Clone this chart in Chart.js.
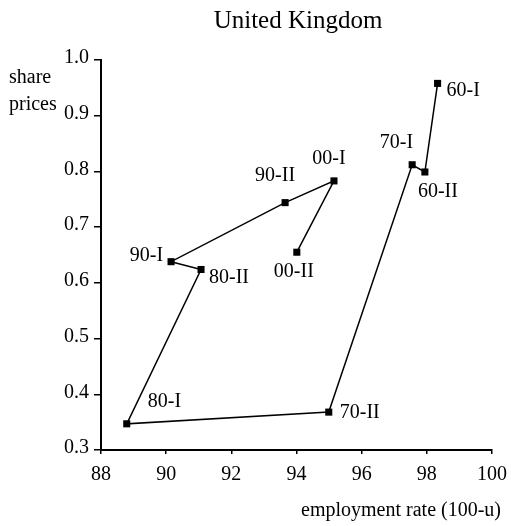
<!DOCTYPE html>
<html>
<head>
<meta charset="utf-8">
<script src="https://cdn.jsdelivr.net/npm/chart.js@4"></script>
<style>
  html, body { margin: 0; padding: 0; background: #ffffff; }
  #wrap { width: 511px; height: 526px; position: relative; }
</style>
</head>
<body>
<div id="wrap"><canvas id="c" width="511" height="526"></canvas></div>
<script>
// ---- data ----
const periods = ['60-I', '60-II', '70-I', '70-II', '80-I', '80-II', '90-I', '90-II', '00-I', '00-II'];
const employmentRate = [98.33, 97.94, 97.55, 94.99, 88.79, 91.07, 90.15, 93.65, 95.15, 94.01];
const sharePrices = [0.958, 0.799, 0.812, 0.368, 0.347, 0.624, 0.638, 0.744, 0.783, 0.655];
const xTicks = [88, 90, 92, 94, 96, 98, 100];
const yTicks = [0.3, 0.4, 0.5, 0.6, 0.7, 0.8, 0.9, 1.0];
const titleText = 'United Kingdom';
const yTitleLines = ['share', 'prices'];
const xTitleText = 'employment rate (100-u)';

// ---- label placement (style, not data) ----
const labelPlacement = [
  { align: 'left',   dx: 9,   dy: 7 },
  { align: 'center', dx: 13,  dy: 20 },
  { align: 'right',  dx: 1,   dy: -22 },
  { align: 'left',   dx: 11,  dy: 1 },
  { align: 'left',   dx: 21,  dy: -22 },
  { align: 'left',   dx: 8,   dy: 8 },
  { align: 'right',  dx: -8,  dy: -6 },
  { align: 'center', dx: -10, dy: -27 },
  { align: 'center', dx: -5,  dy: -22 },
  { align: 'center', dx: -3,  dy: 20 }
];

const FONT = '"Liberation Serif", "Times New Roman", serif';

const points = employmentRate.map((x, i) => ({ x: x, y: sharePrices[i] }));

const textPlugin = {
  id: 'textPlugin',
  afterDatasetsDraw(chart) {
    const ctx = chart.ctx;
    const xs = chart.scales.x, ys = chart.scales.y;
    ctx.save();
    ctx.fillStyle = '#000';
    // title
    ctx.font = '25px ' + FONT;
    ctx.textAlign = 'center';
    ctx.textBaseline = 'alphabetic';
    ctx.fillText(titleText, 298, 28);
    // y title
    ctx.font = '20px ' + FONT;
    ctx.textAlign = 'left';
    ctx.fillText(yTitleLines[0], 9, 83);
    ctx.fillText(yTitleLines[1], 9, 110);
    // x title
    ctx.textAlign = 'right';
    ctx.fillText(xTitleText, 501, 516);
    // point labels
    ctx.textBaseline = 'middle';
    periods.forEach((p, i) => {
      const px = xs.getPixelForValue(employmentRate[i]);
      const py = ys.getPixelForValue(sharePrices[i]);
      const lp = labelPlacement[i];
      ctx.textAlign = lp.align;
      ctx.fillText(p, px + lp.dx, py + lp.dy);
    });
    ctx.restore();
  }
};

const bgPlugin = {
  id: 'bg',
  beforeDraw(chart) {
    const ctx = chart.ctx;
    ctx.save();
    ctx.fillStyle = '#fff';
    ctx.fillRect(0, 0, chart.width, chart.height);
    ctx.restore();
  }
};

new Chart(document.getElementById('c'), {
  type: 'scatter',
  data: {
    datasets: [{
      data: points,
      showLine: true,
      borderColor: '#000',
      borderWidth: 1.5,
      backgroundColor: '#000',
      pointStyle: 'rect',
      pointRadius: 5,
      pointBorderWidth: 0,
      pointHoverRadius: 5,
      tension: 0
    }]
  },
  options: {
    responsive: false,
    animation: false,
    devicePixelRatio: 1,
    layout: { padding: { left: 0, right: 19, top: 60, bottom: 0 } },
    plugins: {
      legend: { display: false },
      title: { display: false },
      tooltip: { enabled: false }
    },
    scales: {
      x: {
        type: 'linear',
        min: 88, max: 100,
        afterBuildTicks(scale) { scale.ticks = xTicks.map(v => ({ value: v })); },
        afterFit(scale) {
          scale.height = 76;
          scale.paddingLeft = 0;
          scale.paddingRight = 0;
        },
        ticks: {
          color: '#000',
          font: { family: FONT, size: 20 },
          padding: 9,
          maxRotation: 0,
          callback: v => String(v)
        },
        grid: { drawOnChartArea: false, drawTicks: true, tickLength: 4, color: '#000', lineWidth: 1.5 },
        border: { display: true, color: '#000', width: 2 }
      },
      y: {
        type: 'linear',
        min: 0.3, max: 1.0,
        afterBuildTicks(scale) { scale.ticks = yTicks.map(v => ({ value: v })); },
        afterFit(scale) {
          scale.width = 101;
          scale.paddingTop = 0;
          scale.paddingBottom = 0;
        },
        ticks: {
          color: '#000',
          font: { family: FONT, size: 20 },
          padding: 5,
          labelOffset: -2,
          callback: v => Number(v).toFixed(1)
        },
        grid: { drawOnChartArea: false, drawTicks: true, tickLength: 7, color: '#000', lineWidth: 1.5 },
        border: { display: true, color: '#000', width: 2 }
      }
    }
  },
  plugins: [bgPlugin, textPlugin]
});
</script>
</body>
</html>
